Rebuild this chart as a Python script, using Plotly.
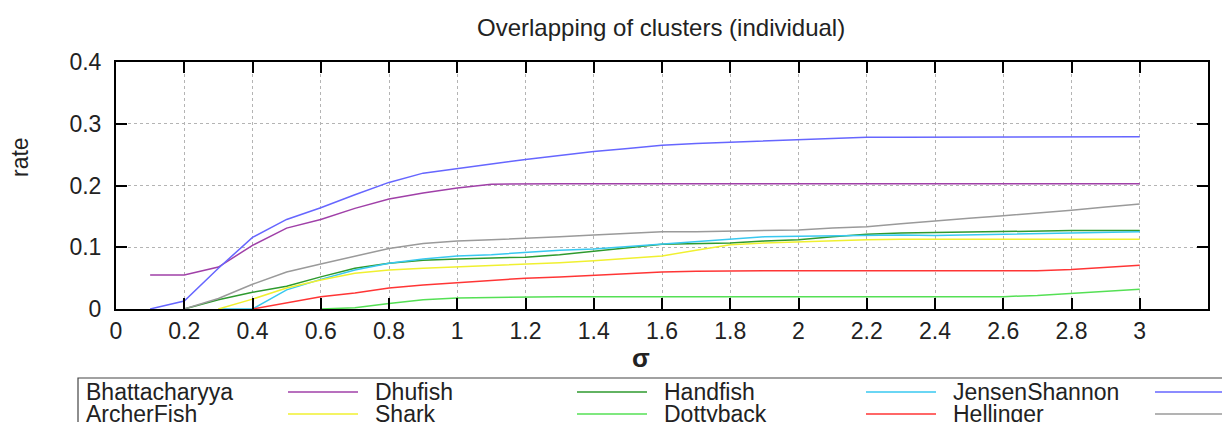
import plotly.graph_objects as go

# x positions (sigma) shared by all series
sigma = [0.1, 0.2, 0.3, 0.4, 0.5, 0.6, 0.7, 0.8, 0.9, 1.0,
         1.1, 1.2, 1.3, 1.4, 1.5, 1.6, 1.7, 1.8, 1.9, 2.0,
         2.1, 2.2, 2.3, 2.4, 2.5, 2.6, 2.7, 2.8, 2.9, 3.0]

bhattacharyya = [0.055, 0.055, 0.068, 0.103, 0.131, 0.145, 0.163, 0.178, 0.188, 0.196,
                 0.202, 0.203, 0.203, 0.203, 0.203, 0.203, 0.203, 0.203, 0.203, 0.203,
                 0.203, 0.203, 0.203, 0.203, 0.203, 0.203, 0.203, 0.203, 0.203, 0.203]
dhufish = [None, 0.0, 0.015, 0.027, 0.037, 0.052, 0.066, 0.074, 0.079, 0.081,
           0.082, 0.084, 0.088, 0.093, 0.099, 0.105, 0.106, 0.107, 0.110, 0.112,
           0.117, 0.121, 0.123, 0.124, 0.125, 0.125, 0.126, 0.127, 0.127, 0.127]
handfish = [None, None, 0.0, 0.0, 0.031, 0.048, 0.063, 0.074, 0.081, 0.086,
            0.088, 0.092, 0.095, 0.097, 0.101, 0.106, 0.110, 0.114, 0.117, 0.118,
            0.119, 0.120, 0.120, 0.119, 0.120, 0.120, 0.121, 0.122, 0.124, 0.125]
jensen_shannon = [0.0, 0.013, 0.066, 0.116, 0.145, 0.164, 0.185, 0.205, 0.220, 0.228,
                  0.235, 0.242, 0.249, 0.255, 0.260, 0.265, 0.268, 0.270, 0.272, 0.274,
                  0.276, 0.278, 0.278, 0.278, 0.278, 0.278, 0.278, 0.278, 0.279, 0.279]
archerfish = [None, None, 0.0, 0.016, 0.034, 0.047, 0.058, 0.063, 0.066, 0.068,
              0.070, 0.072, 0.075, 0.078, 0.082, 0.086, 0.095, 0.104, 0.107, 0.109,
              0.111, 0.112, 0.113, 0.113, 0.113, 0.113, 0.113, 0.113, 0.113, 0.113]
shark = [None, None, None, None, None, 0.0, 0.002, 0.009, 0.015, 0.018,
         0.019, 0.019, 0.020, 0.020, 0.020, 0.020, 0.020, 0.020, 0.020, 0.020,
         0.020, 0.020, 0.020, 0.020, 0.020, 0.020, 0.022, 0.025, 0.029, 0.032]
dottyback = [None, None, None, 0.0, 0.010, 0.020, 0.026, 0.034, 0.039, 0.043,
             0.046, 0.050, 0.052, 0.055, 0.058, 0.060, 0.061, 0.062, 0.062, 0.062,
             0.062, 0.062, 0.062, 0.062, 0.062, 0.062, 0.062, 0.064, 0.068, 0.071]
hellinger = [None, 0.0, 0.017, 0.040, 0.060, 0.073, 0.086, 0.098, 0.106, 0.110,
             0.112, 0.114, 0.117, 0.120, 0.122, 0.125, 0.125, 0.126, 0.127, 0.128,
             0.131, 0.133, 0.138, 0.143, 0.147, 0.151, 0.155, 0.160, 0.165, 0.170]

names = ['Bhattacharyya', 'Dhufish', 'Handfish', 'JensenShannon',
         'ArcherFish', 'Shark', 'Dottyback', 'Hellinger']
series = [bhattacharyya, dhufish, handfish, jensen_shannon,
          archerfish, shark, dottyback, hellinger]
colors = ['#a040a8', '#2e9a2e', '#38c8f0', '#6666ff',
          '#f0f030', '#55e055', '#ff3535', '#9a9a9a']

x_ticks = [0, 0.2, 0.4, 0.6, 0.8, 1, 1.2, 1.4, 1.6, 1.8, 2, 2.2, 2.4, 2.6, 2.8, 3]
x_labels = ['0', '0.2', '0.4', '0.6', '0.8', '1', '1.2', '1.4', '1.6', '1.8',
            '2', '2.2', '2.4', '2.6', '2.8', '3']
y_ticks = [0, 0.1, 0.2, 0.3, 0.4]
y_labels = ['0', '0.1', '0.2', '0.3', '0.4']

# the page body adds an 8px offset, so positions are given in window pixels
# and shifted back by OFF
OFF = 8
W, H = 1230, 422
L, R, T, B = 116 - OFF, 1208 - OFF, 62 - OFF, 309 - OFF
FONT = 'Liberation Sans'


def px_x(px):
    return (px - OFF - L) / (R - L)


def px_y(py):
    return (B - (py - OFF)) / (B - T)


fig = go.Figure()
for name, vals, col in zip(names, series, colors):
    fig.add_trace(go.Scatter(x=sigma, y=vals, name=name, mode='lines',
                             line=dict(color=col, width=1.5), showlegend=False))

axis_common = dict(showline=True, linecolor='black', linewidth=2, mirror='ticks',
                   ticks='inside', ticklen=11, tickwidth=1.5, tickcolor='black',
                   showgrid=True, gridcolor='#b4b4b4', griddash='dot', gridwidth=1,
                   zeroline=False, tickfont=dict(size=23, color='#222'))

fig.update_xaxes(range=[0, 3.2], tickvals=x_ticks, ticktext=x_labels,
                 ticklabelstandoff=0, **axis_common)
fig.update_yaxes(range=[0, 0.4], tickvals=y_ticks, ticktext=y_labels,
                 ticklabelstandoff=8, **axis_common)

annotations = [
    dict(text='Overlapping of clusters (individual)', x=px_x(661), y=px_y(27),
         font=dict(size=24, color='#222')),
    dict(text='<b>σ</b>', x=px_x(641), y=px_y(358), font=dict(size=26, color='#222')),
    dict(text='rate', x=px_x(20), y=px_y(157), textangle=-90,
         font=dict(size=23, color='#222')),
]
shapes = [dict(type='rect', xref='paper', yref='paper',
               x0=px_x(78), x1=px_x(1250), y0=px_y(378), y1=px_y(470),
               line=dict(color='#444', width=1.2), layer='above')]

# gnuplot-style key: label first, then the line sample
for i, (name, col) in enumerate(zip(names, colors)):
    row, column = divmod(i, 4)
    tx = 84 + 289 * column
    ty = 392 + 22 * row
    annotations.append(dict(text=name, x=px_x(tx), y=px_y(ty), xanchor='left',
                            font=dict(size=23, color='#222')))
    shapes.append(dict(type='line', xref='paper', yref='paper',
                       x0=px_x(tx + 204), x1=px_x(tx + 274), y0=px_y(ty), y1=px_y(ty),
                       line=dict(color=col, width=1.5)))

for a in annotations:
    a.setdefault('xref', 'paper')
    a.setdefault('yref', 'paper')
    a.setdefault('showarrow', False)
    a.setdefault('yanchor', 'middle')
    a.setdefault('xanchor', 'center')

fig.update_layout(
    width=W, height=H,
    margin=dict(l=L, r=W - R, t=T, b=H - B),
    paper_bgcolor='white', plot_bgcolor='white',
    font=dict(family=FONT, size=23, color='#222'),
    annotations=annotations, shapes=shapes,
)

fig.write_html('out.html')
